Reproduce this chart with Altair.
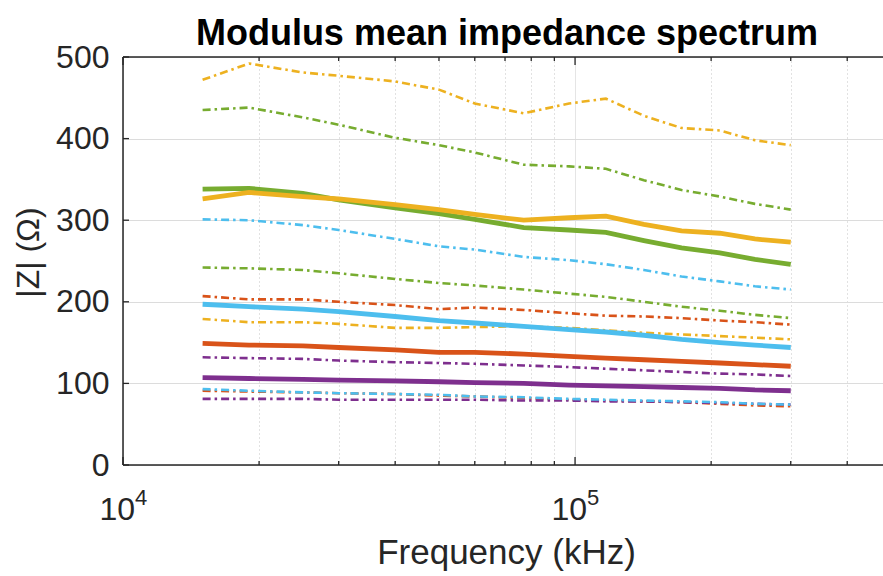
import altair as alt
import pandas as pd

# ---- data ----
FREQ = [15000, 19000, 25000, 30000, 40000, 50000, 60000, 77000, 97000,
        117000, 142000, 172000, 209000, 250000, 300000]

orange_mean = [326, 334, 329, 326, 319, 313, 307, 300, 303, 305, 295, 287, 284, 277, 273]
orange_upper = [472, 492, 481, 477, 470, 460, 443, 431, 443, 449, 428, 413, 410, 398, 392]
orange_lower = [179, 175, 175, 173, 168, 168, 169, 170, 168, 165, 162, 160, 158, 156, 154]
green_mean = [338, 339, 333, 325, 315, 308, 301, 291, 288, 285, 275, 266, 260, 252, 246]
green_upper = [435, 438, 426, 417, 401, 392, 383, 368, 366, 363, 349, 337, 329, 320, 313]
green_lower = [242, 241, 239, 235, 228, 223, 220, 215, 210, 206, 200, 194, 189, 184, 180]
blue_mean = [197, 194, 191, 188, 182, 177, 174, 170, 166, 163, 159, 154, 150, 147, 144]
blue_upper = [301, 300, 294, 288, 277, 268, 264, 255, 251, 246, 239, 231, 225, 219, 215]
blue_lower = [93, 91, 89, 88, 87, 86, 84, 83, 81, 80, 79, 78, 77, 75, 74]
red_mean = [149, 147, 146, 144, 141, 138, 138, 136, 133, 131, 129, 127, 125, 123, 121]
red_upper = [207, 203, 203, 200, 196, 191, 193, 190, 186, 183, 182, 180, 177, 175, 172]
red_lower = [91, 90, 89, 88, 87, 85, 84, 82, 80, 79, 78, 77, 75, 73, 72]
purple_mean = [107, 106, 105, 104, 103, 102, 101, 100, 98, 97, 96, 95, 94, 92, 91]
purple_upper = [132, 131, 130, 128, 126, 125, 124, 122, 120, 118, 116, 114, 112, 111, 109]
purple_lower = [81, 81, 81, 80, 80, 80, 80, 79, 79, 78, 78, 77, 76, 75, 74]

ORANGE, GREEN, BLUE, RED, PURPLE = "#EDB120", "#77AC30", "#4DBEEE", "#D95319", "#7E2F8E"

BOUNDS = [
    ("red_upper", RED, red_upper), ("red_lower", RED, red_lower),
    ("orange_upper", ORANGE, orange_upper), ("orange_lower", ORANGE, orange_lower),
    ("purple_upper", PURPLE, purple_upper), ("purple_lower", PURPLE, purple_lower),
    ("green_upper", GREEN, green_upper), ("green_lower", GREEN, green_lower),
    ("blue_upper", BLUE, blue_upper), ("blue_lower", BLUE, blue_lower),
]
MEANS = [
    ("purple_mean", PURPLE, purple_mean), ("red_mean", RED, red_mean),
    ("blue_mean", BLUE, blue_mean), ("green_mean", GREEN, green_mean),
    ("orange_mean", ORANGE, orange_mean),
]

TITLE = "Modulus mean impedance spectrum"
Y_TICKS = [0, 100, 200, 300, 400, 500]
X_MAJOR = [1e4, 1e5]
X_MINOR = [2e4, 3e4, 4e4, 5e4, 6e4, 7e4, 8e4, 9e4, 2e5, 3e5, 4e5]
EXPONENTS = ["4", "5"]


def table(items):
    rows = []
    for i, (name, color, vals) in enumerate(items):
        for f, v in zip(FREQ, vals):
            rows.append({"freq": f, "z": v, "series": f"{i:02d}_{name}", "color": color})
    return pd.DataFrame(rows)


bounds_df = table(BOUNDS)
means_df = table(MEANS)

W, H = 760, 408
FONT = "Liberation Sans"
TXT = "#262626"

xscale = alt.Scale(type="log", domain=[1e4, 4.8e5], nice=False)
yscale = alt.Scale(domain=[0, 500], nice=False, zero=False)

x_axis = alt.Axis(
    values=X_MAJOR + X_MINOR, labels=False, ticks=False, domain=False,
    grid=True,
    gridColor={"condition": {"test": "datum.value == 10000 || datum.value == 100000",
                             "value": "#dcdcdc"}, "value": "#c4c4c4"},
    gridDash={"condition": {"test": "datum.value == 10000 || datum.value == 100000",
                            "value": [1, 0]}, "value": [1, 3]},
    gridWidth=1,
    title="Frequency (kHz)", titleFont=FONT, titleFontSize=35, titleFontWeight="normal",
    titleColor=TXT, titleBaseline="alphabetic", titleY=98, titleX=383, titleAlign="center",
)
y_axis = alt.Axis(
    values=Y_TICKS, grid=True, gridColor="#dcdcdc", gridWidth=1, domain=False,
    ticks=False, tickSize=0, labelPadding=14, labelFont=FONT, labelFontSize=32,
    labelColor=TXT,
    title="|Z| (Ω)", titleFont=FONT, titleFontSize=32, titleFontWeight="normal",
    titleColor=TXT, titleBaseline="alphabetic", titleX=-85, titleY=195,
    titleAlign="center", titleAngle=270,
)

x_enc = alt.X("freq:Q", scale=xscale, axis=x_axis)
y_enc = alt.Y("z:Q", scale=yscale, axis=y_axis)

bounds = alt.Chart(bounds_df).mark_line(strokeWidth=2.6, strokeDash=[8, 4, 2.5, 4]).encode(
    x=x_enc, y=y_enc,
    color=alt.Color("color:N", scale=None),
    detail="series:N",
    order="freq:Q",
)
means = alt.Chart(means_df).mark_line(strokeWidth=4.8).encode(
    x=x_enc, y=y_enc,
    color=alt.Color("color:N", scale=None),
    detail="series:N",
    order="freq:Q",
)

one = pd.DataFrame({"k": [0]})
frame_left = alt.Chart(one).mark_rule(color=TXT, strokeWidth=1.5).encode(
    x=alt.value(0), y=alt.value(0), y2=alt.value(H))
frame_top = alt.Chart(one).mark_rule(color=TXT, strokeWidth=1.5).encode(
    y=alt.value(0), x=alt.value(0), x2=alt.value(W))
frame_bottom = alt.Chart(one).mark_rule(color=TXT, strokeWidth=1.5).encode(
    y=alt.value(H), x=alt.value(0), x2=alt.value(W))

yt = pd.DataFrame({"z": Y_TICKS})
y_ticks = alt.Chart(yt).mark_rule(color=TXT, strokeWidth=1.3).encode(
    y=y_enc, x=alt.value(0), x2=alt.value(6))

xmin = pd.DataFrame({"freq": X_MINOR})
xmaj = pd.DataFrame({"freq": X_MAJOR})
x_minor_bottom = alt.Chart(xmin).mark_rule(color=TXT, strokeWidth=1.3).encode(
    x=x_enc, y=alt.value(H - 4), y2=alt.value(H))
x_major_bottom = alt.Chart(xmaj).mark_rule(color=TXT, strokeWidth=1.3).encode(
    x=x_enc, y=alt.value(H - 8), y2=alt.value(H))
x_minor_top = alt.Chart(xmin).mark_rule(color=TXT, strokeWidth=1.3).encode(
    x=x_enc, y=alt.value(0), y2=alt.value(4))
x_major_top = alt.Chart(xmaj).mark_rule(color=TXT, strokeWidth=1.3).encode(
    x=x_enc, y=alt.value(0), y2=alt.value(8))

lab = pd.DataFrame({"freq": X_MAJOR, "base": ["10", "10"], "exp": EXPONENTS})
x_base = alt.Chart(lab).mark_text(align="right", baseline="alphabetic", dx=12,
                                  font=FONT, fontSize=32, color=TXT).encode(
    x=x_enc, y=alt.value(H + 55), text="base:N")
x_exp = alt.Chart(lab).mark_text(align="left", baseline="alphabetic", dx=12,
                                 font=FONT, fontSize=22, color=TXT).encode(
    x=x_enc, y=alt.value(H + 40), text="exp:N")

title_df = pd.DataFrame({"t": [TITLE]})
title = alt.Chart(title_df).mark_text(align="center", baseline="alphabetic",
                                      font=FONT, fontSize=36, fontWeight="bold",
                                      color="#000000").encode(
    x=alt.value(W / 2 + 4), y=alt.value(-12), text="t:N")

chart = alt.layer(
    bounds, means,
    y_ticks, x_minor_bottom, x_major_bottom, x_minor_top, x_major_top,
    frame_left, frame_top, frame_bottom,
    x_base, x_exp, title,
).properties(
    width=W, height=H,
    padding={"left": 123, "top": 57, "right": 0, "bottom": 111},
    autosize=alt.AutoSizeParams(type="none"),
).configure_view(stroke=None).configure(background="white")

chart.save("out.html", embed_options={"renderer": "svg", "actions": False})
